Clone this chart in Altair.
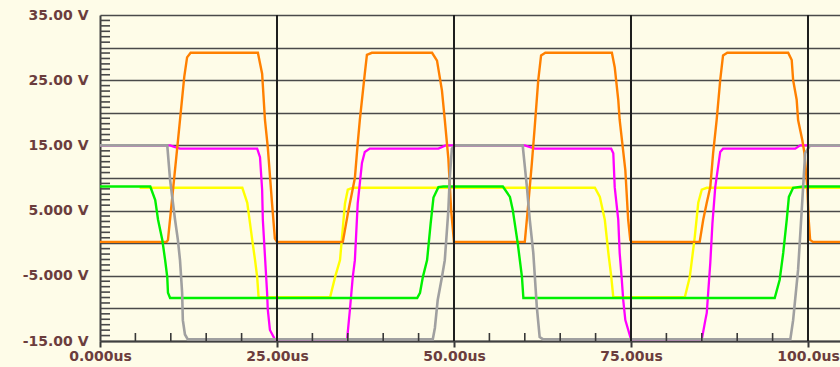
import json
import altair as alt
import pandas as pd

# ---- data (time in us, voltage in V) ----
orange_t = [0, 9.4, 9.6, 10.0, 10.5, 11.0, 11.3, 11.9, 12.3, 12.8, 22.3, 22.9, 23.3, 23.7, 24.3, 24.7, 25.0,
            34.3, 35.0, 36.0, 36.4, 36.7, 37.4, 37.7, 38.4, 46.9, 47.6, 48.3, 48.7, 49.2, 49.6, 50.0,
            60.0, 60.5, 61.0, 61.4, 61.9, 62.3, 62.9, 72.3, 72.7, 73.2, 73.4, 74.2, 74.6, 74.9, 75.1,
            84.7, 85.2, 85.7, 86.2, 86.6, 87.1, 87.6, 88.0, 88.6, 97.2, 97.7, 97.9, 98.4, 98.6, 99.2,
            99.5, 99.9, 100.1, 100.3, 100.7, 104.6]
orange_v = [0.2, 0.2, 0.5, 4.8, 10.2, 15.6, 18.9, 25.5, 28.5, 29.2, 29.2, 26.0, 18.9, 14.7, 6.1, 0.7, 0.2,
            0.2, 4.5, 10.0, 15.3, 18.9, 26.0, 28.9, 29.2, 29.2, 28.0, 23.4, 18.9, 13.0, 5.0, 0.2,
            0.2, 6.1, 12.3, 17.8, 25.0, 28.8, 29.2, 29.2, 27.0, 22.0, 18.9, 11.2, 3.6, 0.5, 0.2,
            0.2, 3.6, 6.2, 8.6, 13.8, 18.9, 25.0, 28.8, 29.2, 29.2, 28.1, 25.0, 22.0, 18.9, 15.8,
            13.8, 8.6, 3.6, 0.5, 0.2, 0.2]

magenta_t = [0, 9.9, 10.4, 11.3, 22.2, 22.6, 22.9, 23.0, 23.3, 23.6, 23.7, 24.0, 24.7,
             34.9, 35.3, 35.7, 36.0, 36.4, 37.0, 37.4, 38.1, 47.8, 48.8, 60.0, 61.4,
             72.2, 72.5, 72.7, 73.2, 73.4, 73.7, 73.9, 74.2, 75.0,
             85.0, 85.5, 85.7, 86.2, 86.5, 86.9, 87.6, 88.0, 98.2, 98.9, 104.6]
magenta_v = [15.0, 15.0, 14.8, 14.5, 14.5, 13.2, 8.2, 3.6, -2.0, -7.6, -10.2, -13.3, -14.75,
             -14.75, -10.2, -5.2, -2.6, 6.1, 12.3, 14.0, 14.5, 14.5, 15.0, 15.0, 14.5,
             14.5, 13.8, 8.6, 3.6, -1.5, -5.6, -8.7, -11.8, -14.75,
             -14.75, -11.8, -10.7, -3.0, 3.0, 8.6, 14.0, 14.5, 14.5, 15.0, 15.0]

gray_t = [0, 9.5, 9.9, 10.6, 11.0, 11.3, 11.6, 11.7, 12.0, 12.4,
          47.0, 47.3, 47.7, 48.3, 48.7, 49.2, 49.4, 49.7, 50.2,
          59.7, 60.3, 60.7, 61.2, 61.7, 62.1, 62.6,
          97.5, 97.9, 98.6, 99.2, 99.6, 100.3, 104.6]
gray_v = [15.0, 15.0, 9.7, 3.6, 0.5, -2.6, -7.6, -11.8, -14.0, -14.75,
          -14.75, -13.0, -8.7, -5.2, -2.6, 5.0, 10.0, 14.5, 15.0,
          15.0, 8.6, 3.6, -1.5, -9.8, -14.4, -14.75,
          -14.75, -11.8, -4.1, 6.6, 13.8, 15.0, 15.0]

green_t = [0, 7.1, 7.8, 8.2, 8.8, 9.2, 9.5, 9.6, 9.9,
           44.8, 45.2, 45.6, 46.2, 46.7, 47.1, 47.8, 48.5,
           56.9, 57.9, 58.3, 59.0, 59.6, 59.8,
           95.3, 96.0, 96.5, 97.0, 97.3, 97.9, 99.3, 104.6]
green_v = [8.7, 8.7, 6.6, 3.6, 0.5, -2.6, -5.2, -7.6, -8.4,
           -8.4, -7.6, -5.2, -2.6, 3.0, 7.0, 8.6, 8.7,
           8.7, 7.1, 5.1, 0.0, -5.2, -8.4,
           -8.4, -5.6, -1.5, 3.6, 7.1, 8.5, 8.7, 8.7]

yellow_t = [5.6, 20.1, 20.8, 21.5, 21.9, 22.2, 22.4, 32.5, 33.2, 33.9, 34.6, 35.0, 35.7,
            69.9, 70.6, 71.3, 71.8, 72.2, 72.5, 82.6, 83.3, 84.0, 84.5, 85.0, 85.7, 104.6]
yellow_v = [8.5, 8.5, 6.2, 0.5, -2.6, -5.2, -8.3, -8.3, -5.2, -2.6, 6.1, 8.2, 8.5,
            8.5, 7.1, 3.6, -1.5, -5.0, -8.3, -8.3, -5.2, 0.9, 6.2, 8.2, 8.5, 8.5]

x_major = [0, 25, 50, 75, 100]
x_labels = ["0.000us", "25.00us", "50.00us", "75.00us", "100.0us"]
x_grid = [25, 50, 75, 100]
x_minor = [5, 10, 15, 20, 30, 35, 40, 45, 55, 60, 65, 70, 80, 85, 90, 95]
y_grid = [-15, -10, -5, 0, 5, 10, 15, 20, 25, 30, 35]
y_major = [-15, -5, 5, 15, 25, 35]
y_labels = ["-15.00 V", "-5.000 V", "5.000 V", "15.00 V", "25.00 V", "35.00 V"]
y_minor = [round(-15 + k * 5 / 6, 4) for k in range(61) if k % 6 != 0]

BG = "#FEFCE8"
TXT = "#6b3d3d"
FONT = "DejaVu Sans"

xscale = alt.Scale(domain=[0, 104.52], nice=False, zero=False)
yscale = alt.Scale(domain=[-15, 35], nice=False, zero=False)

x_expr = f"{json.dumps(x_labels)}[indexof({json.dumps(x_major)}, datum.value)]"
y_expr = (f"indexof({json.dumps(y_major)}, datum.value) >= 0 ? "
          f"{json.dumps(y_labels)}[indexof({json.dumps(y_major)}, datum.value)] : ''")

xaxis = alt.Axis(values=x_major, title=None, grid=False, tickSize=6, tickWidth=2, tickColor="#383838",
                 domainColor="#404040", domainWidth=2, labelExpr=x_expr,
                 labelFont=FONT, labelFontSize=14, labelFontWeight="bold", labelColor=TXT,
                 labelPadding=2, labelOverlap=False, labelBound=False, labelFlush=False)
yaxis = alt.Axis(values=y_grid, title=None, grid=True, gridColor="#4a4a4a", gridWidth=1.6, gridOpacity=1,
                 ticks=False, domainColor="#404040", domainWidth=2, labelExpr=y_expr,
                 labelFont=FONT, labelFontSize=14, labelFontWeight="bold", labelColor=TXT,
                 labelPadding=12, labelOverlap=False, labelBound=False)


def trace(ts, vs, color, w):
    df = pd.DataFrame({"t": ts, "v": vs, "i": list(range(len(ts)))})
    return alt.Chart(df).mark_line(color=color, strokeWidth=w, clip=True).encode(
        x=alt.X("t:Q", scale=xscale, axis=xaxis),
        y=alt.Y("v:Q", scale=yscale, axis=yaxis),
        order="i:Q",
    )


layers = [
    trace(yellow_t, yellow_v, "#FFFF00", 2.4),
    trace(magenta_t, magenta_v, "#FF00FF", 2.3),
    trace(orange_t, orange_v, "#FF8000", 2.4),
    trace(green_t, green_v, "#00F000", 2.4),
    trace(gray_t, gray_v, "#A0A0A0", 2.6),
]

vgrid = alt.Chart(pd.DataFrame({"t": x_grid})).mark_rule(color="#1e1e1e", strokeWidth=2).encode(
    x=alt.X("t:Q", scale=xscale, axis=xaxis)
)
xticks = alt.Chart(pd.DataFrame({"t": x_minor})).mark_tick(
    orient="vertical", size=8, thickness=1.6, color="#383838", yOffset=-4, opacity=1
).encode(
    x=alt.X("t:Q", scale=xscale, axis=xaxis),
    y=alt.YDatum(-15, scale=yscale, axis=yaxis),
)
yticks = alt.Chart(pd.DataFrame({"v": y_minor})).mark_tick(
    orient="horizontal", size=10, thickness=1.6, color="#484848", xOffset=5, opacity=1
).encode(
    y=alt.Y("v:Q", scale=yscale, axis=yaxis),
    x=alt.XDatum(0, scale=xscale, axis=xaxis),
)

chart = alt.layer(*layers, vgrid, xticks, yticks).properties(
    width=740, height=326,
    padding={"left": 100, "top": 15, "right": 0, "bottom": 26},
    autosize=alt.AutoSizeParams(type="none"),
    background=BG,
).configure_view(fill=BG, stroke=None)

chart.save("out.html", embed_options={"renderer": "svg", "actions": False})
